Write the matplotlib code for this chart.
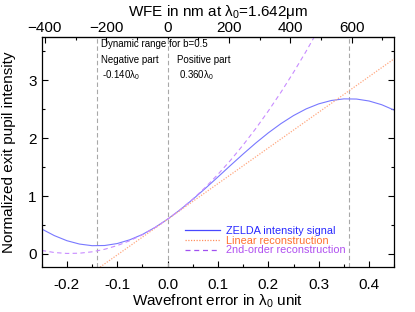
import matplotlib
matplotlib.use("Agg")
import matplotlib.pyplot as plt
from matplotlib.ticker import MultipleLocator

plt.rcParams['font.family'] = ['Liberation Sans', 'DejaVu Sans']
plt.rcParams['mathtext.default'] = 'regular'

# ---- data ----
wfe = [-0.25, -0.225, -0.2, -0.175, -0.15, -0.125, -0.1, -0.075, -0.05, -0.025,
       0.0, 0.025, 0.05, 0.075, 0.1, 0.125, 0.15, 0.175, 0.2, 0.225,
       0.25, 0.275, 0.3, 0.325, 0.35, 0.375, 0.4, 0.425, 0.45]
zelda = [0.431, 0.317, 0.229, 0.171, 0.143, 0.146, 0.180, 0.245, 0.337, 0.458,
         0.601, 0.764, 0.943, 1.133, 1.330, 1.530, 1.726, 1.915, 2.091, 2.250,
         2.389, 2.504, 2.591, 2.649, 2.677, 2.674, 2.640, 2.576, 2.482]
quad_x = [-0.25, -0.225, -0.2, -0.175, -0.15, -0.125, -0.1, -0.075, -0.05, -0.025,
          0.0, 0.025, 0.05, 0.075, 0.1, 0.125, 0.15, 0.175, 0.2, 0.225,
          0.25, 0.275, 0.3, 0.325]
quad_y = [0.061, 0.025, 0.009, 0.013, 0.037, 0.081, 0.145, 0.229, 0.332, 0.456,
          0.600, 0.764, 0.947, 1.151, 1.375, 1.618, 1.882, 2.165, 2.469, 2.792,
          3.136, 3.499, 3.882, 4.286]
lin_x = [-0.25, 0.45]
lin_y = [-0.94, 3.37]
range_limits = [-0.14, 0.0, 0.36]
lambda0_nm = 1642.0
top_ticks = [-400, -200, 0, 200, 400, 600]

fig = plt.figure(figsize=(4.15, 3.12), dpi=100)
ax = fig.add_axes([0.1005, 0.1433, 0.8496, 0.7372])

for xv in range_limits:
    ax.axvline(xv, color='#a8a8a8', lw=0.8, dashes=(4, 2.5))

ax.plot(wfe, zelda, color='#7878ff', lw=0.8)
ax.plot(lin_x, lin_y, color='#ffa880', lw=0.9, dashes=(1, 1.2))
ax.plot(quad_x, quad_y, color='#c88cff', lw=0.8, dashes=(4, 3))

ax.set_xlim(-0.25, 0.45)
ax.set_ylim(-0.23, 3.74)

ax.xaxis.set_major_locator(MultipleLocator(0.1))
ax.xaxis.set_minor_locator(MultipleLocator(0.05))
ax.yaxis.set_major_locator(MultipleLocator(1))
ax.yaxis.set_minor_locator(MultipleLocator(0.5))
ax.xaxis.set_major_formatter(plt.FuncFormatter(lambda v, p: f"{v:.1f}".replace('-0.0', '0.0')))
ax.tick_params(which='both', direction='in', right=True, labelsize=11)
ax.tick_params(axis='x', which='both', pad=8)
ax.tick_params(which='major', length=4, width=0.8)
ax.tick_params(which='minor', length=2.2, width=0.8)
for s in ax.spines.values():
    s.set_linewidth(0.9)

ax.set_xlabel(r'Wavefront error in $\lambda_0$ unit', fontsize=11, labelpad=0)
ax.set_ylabel('Normalized exit pupil intensity', fontsize=11, labelpad=9)

sec = ax.secondary_xaxis('top', functions=(lambda x: x * lambda0_nm, lambda x: x / lambda0_nm))
sec.set_xticks(top_ticks)
sec.xaxis.set_minor_locator(MultipleLocator(100))
sec.tick_params(which='both', direction='in', labelsize=11, pad=2)
sec.tick_params(which='major', length=4, width=0.8)
sec.tick_params(which='minor', length=2.2, width=0.8)
sec.set_xlabel(r'WFE in nm at $\lambda_0$=1.642μm', fontsize=11, labelpad=3)

tf = ax.transAxes
ax.text(0.167, 0.9565, 'Dynamic range for b=0.5', transform=tf, fontsize=7, va='baseline')
ax.text(0.169, 0.887, 'Negative part', transform=tf, fontsize=7, va='baseline')
ax.text(0.383, 0.887, 'Positive part', transform=tf, fontsize=7, va='baseline')
ax.text(0.170, 0.824, r'-0.140$\lambda_0$', transform=tf, fontsize=7, va='baseline')
ax.text(0.389, 0.824, r'0.360$\lambda_0$', transform=tf, fontsize=7, va='baseline')

leg = [('ZELDA intensity signal', '#4848ff', '#2828ff', None),
       ('Linear reconstruction', '#ff9060', '#ff7030', (1, 1.2)),
       ('2nd-order reconstruction', '#a050f0', '#b050f0', (4, 3))]
ys_line = [0.161, 0.120, 0.0765]
ys_text = [0.1447, 0.1030, 0.0609]
for (lab, lc, tc, ds), yl, yt in zip(leg, ys_line, ys_text):
    ln, = ax.plot([0.406, 0.506], [yl, yl], transform=tf, color=lc, lw=0.9)
    if ds:
        ln.set_dashes(ds)
    ax.text(0.522, yt, lab, transform=tf, fontsize=7.8, color=tc, va='baseline')

fig.savefig('out.png', dpi=100)
